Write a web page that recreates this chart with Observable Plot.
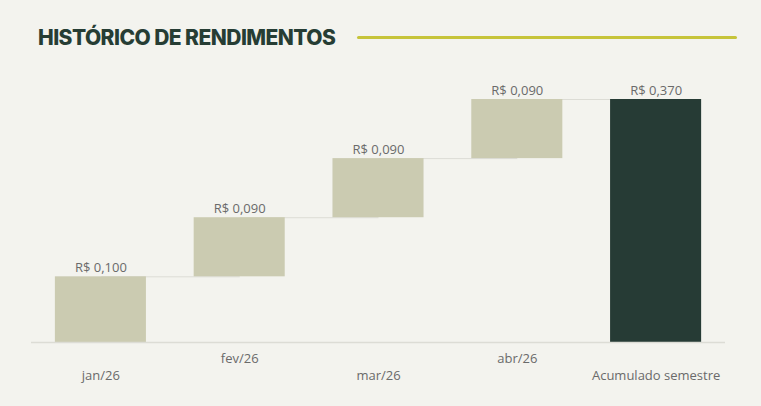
<!DOCTYPE html>
<html><head><meta charset="utf-8">
<script src="https://cdn.jsdelivr.net/npm/d3@7"></script>
<script src="https://cdn.jsdelivr.net/npm/@observablehq/plot@0.6"></script>
<style>
html,body{margin:0;padding:0;background:#f3f3ee;}
#wrap{width:761px;height:406px;overflow:hidden;background:#f3f3ee;}
#title{height:70px;display:flex;align-items:center;padding-left:38px;box-sizing:border-box;padding-top:5px;}
#title h1{margin:0;font-family:Inter,sans-serif;font-weight:800;font-size:21px;color:#263d34;letter-spacing:-0.55px;white-space:nowrap;}
#title .rule{height:3px;background:#c6c43a;border-radius:2px;margin-left:22px;width:380px;}
svg{display:block;}
</style></head>
<body><div id="wrap"><div id="title"><h1>HISTÓRICO DE RENDIMENTOS</h1><div class="rule"></div></div><div id="chart"></div></div>
<script>
const categories = ["jan/26", "fev/26", "mar/26", "abr/26", "Acumulado semestre"];
const values = [0.100, 0.090, 0.090, 0.090, 0.370];
const isTotal = [false, false, false, false, true];

const fmt = v => "R$ " + v.toFixed(3).replace(".", ",");
let run = 0;
const data = categories.map((c, i) => {
  let y1, y2;
  if (isTotal[i]) { y1 = 0; y2 = values[i]; run = values[i]; }
  else { y1 = run; y2 = run + values[i]; run = y2; }
  return {cat: c, y1, y2, value: values[i], total: isTotal[i], i};
});
const links = data.slice(0, -1).map((d, i) => ({a: d.cat, b: data[i + 1].cat, y: d.y2}));

const font = "'Open Sans', sans-serif";
const chart = Plot.plot({
  width: 761, height: 336,
  marginLeft: 31, marginRight: 36, marginTop: 29, marginBottom: 64,
  style: {background: "transparent", fontFamily: font, fontSize: "13px"},
  x: {domain: categories, paddingInner: 0.344, paddingOuter: 0.172, round: false, axis: null},
  y: {domain: [0, 0.37], axis: null},
  marks: [
    Plot.link(links, {x1: "a", x2: "b", y1: "y", y2: "y", stroke: "#dcdcd5", strokeWidth: 1}),
    Plot.barY(data, {x: "cat", y1: "y1", y2: "y2", fill: d => d.total ? "#263b35" : "#cbcbb1"}),
    Plot.ruleY([0], {stroke: "#dcdcd5", strokeWidth: 1.5}),
    Plot.text(data, {x: "cat", y: "y2", text: d => fmt(d.value), dy: -9, fill: "#6a6a6a", fontSize: 13}),
    Plot.text(data.filter(d => d.i % 2 === 1), {x: "cat", y: () => 0, text: "cat", dy: 16, fill: "#6a6a6a", fontSize: 13}),
    Plot.text(data.filter(d => d.i % 2 === 0), {x: "cat", y: () => 0, text: "cat", dy: 33, fill: "#6a6a6a", fontSize: 13})
  ]
});
document.getElementById("chart").appendChild(chart);
</script></body></html>
